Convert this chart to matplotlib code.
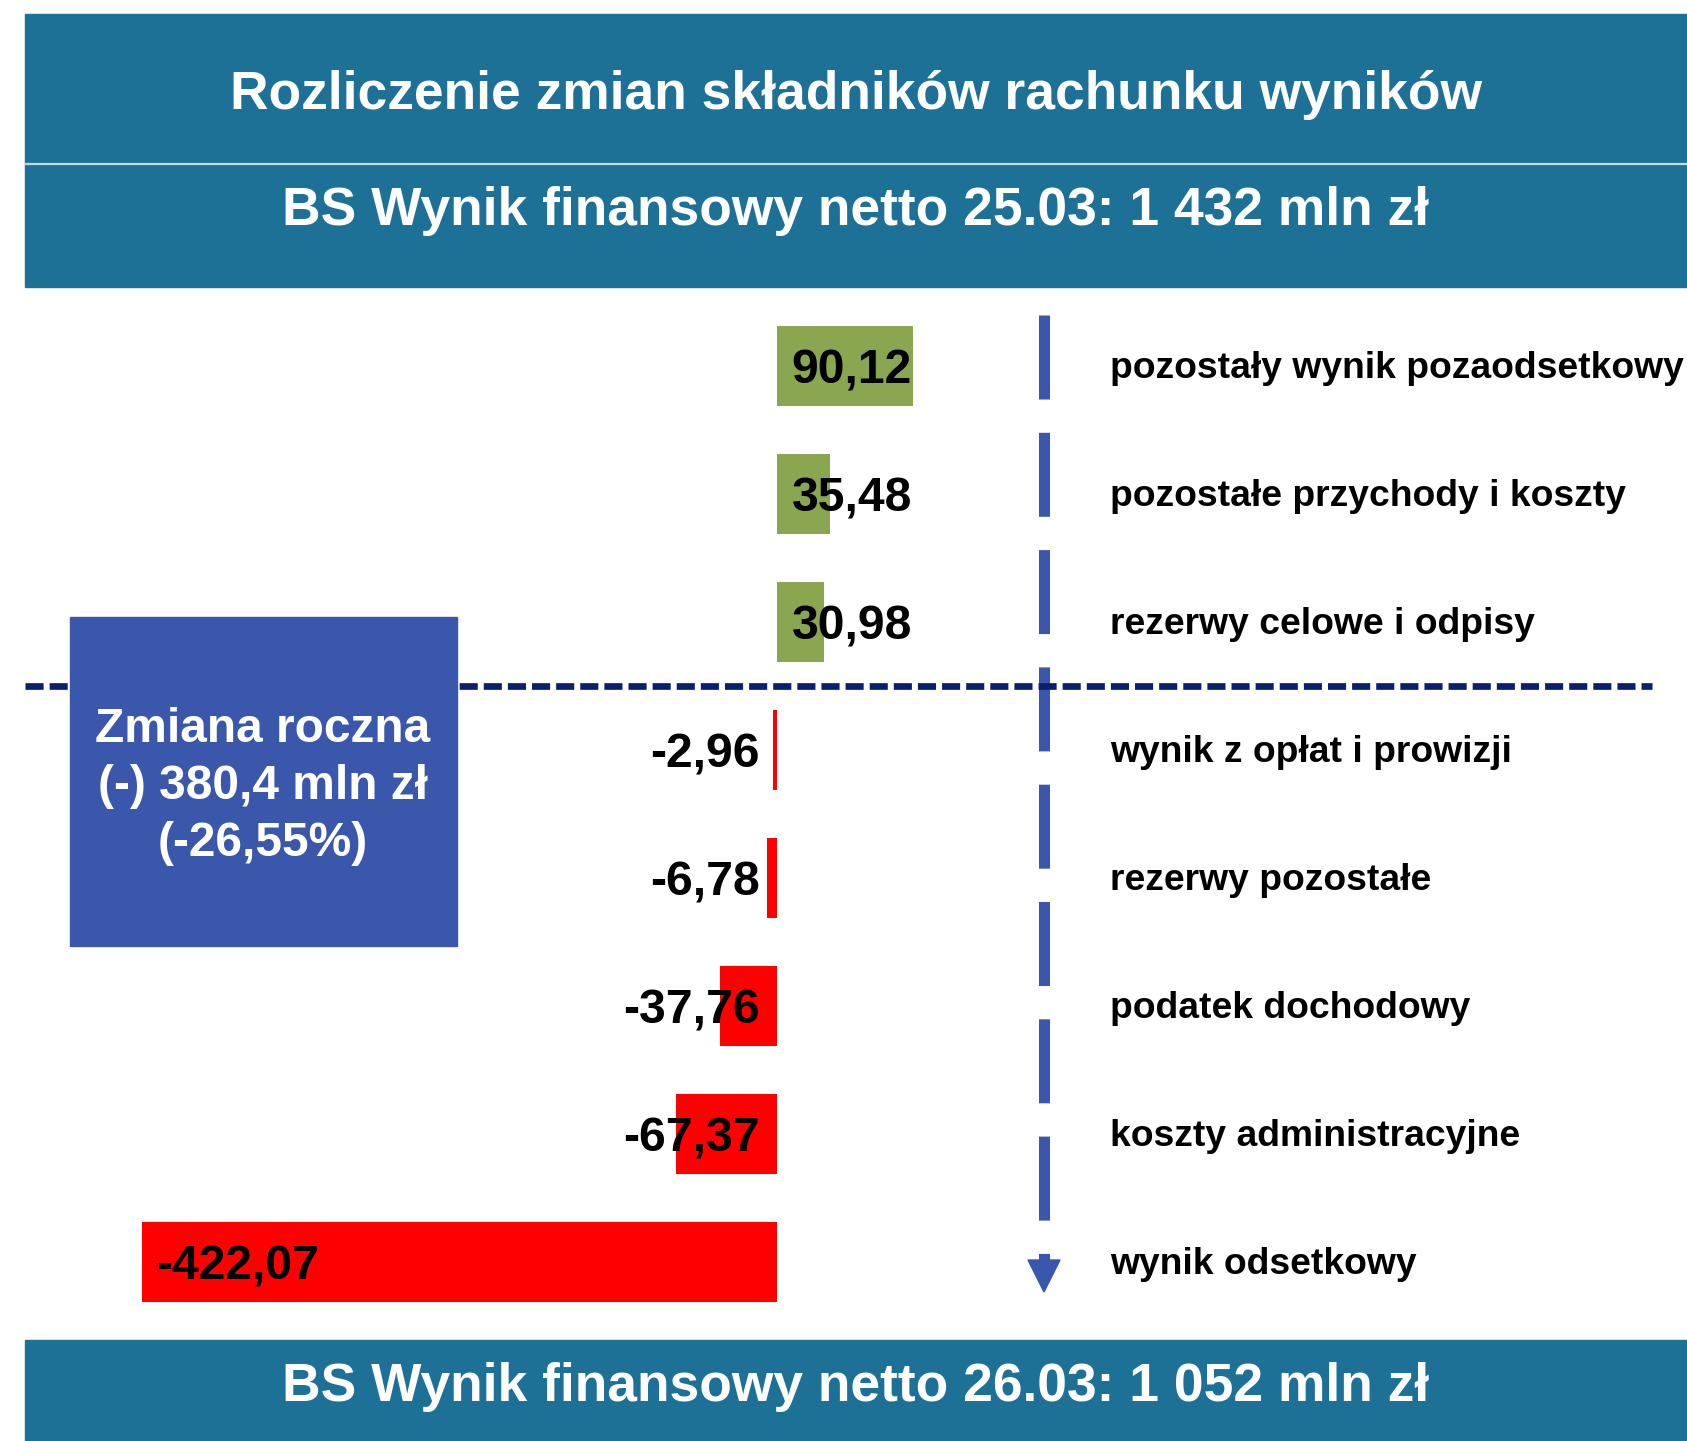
import matplotlib.pyplot as plt
from matplotlib.patches import Rectangle, Polygon

plt.rcParams['font.family'] = ['Liberation Sans', 'DejaVu Sans']
plt.rcParams['font.weight'] = 'bold'

title = "Rozliczenie zmian składników rachunku wyników"
start_label = "BS Wynik finansowy netto 25.03: 1 432 mln zł"
end_label = "BS Wynik finansowy netto 26.03: 1 052 mln zł"
box_lines = ["Zmiana roczna", "(-) 380,4 mln zł", "(-26,55%)"]

categories = ["pozostały wynik pozaodsetkowy", "pozostałe przychody i koszty",
              "rezerwy celowe i odpisy", "wynik z opłat i prowizji",
              "rezerwy pozostałe", "podatek dochodowy",
              "koszty administracyjne", "wynik odsetkowy"]
values = [90.12, 35.48, 30.98, -2.96, -6.78, -37.76, -67.37, -422.07]

W, H = 1687, 1441
BANNER = '#1D7197'
GREEN = '#8BA650'
RED = '#FF0000'
BOXBLUE = '#3A57AB'
ARROW = '#3A57AD'
NAVY = '#0A1F6E'

# pixel helpers (full-size reference coordinates)
X0, SX = 777, 1.505   # zero position and px per unit
Y0, SY = 366, 128     # first row centre and row spacing


def fx(px):
    return px / W


def fy(py):
    return 1 - py / H


def pts(px):
    return px * 72 / 100


fig = plt.figure(figsize=(W / 100, H / 100), dpi=100)
ax = fig.add_axes([0, 0, 1, 1])
ax.set_xlim((0 - X0) / SX, (W - X0) / SX)
ax.set_ylim((H - Y0) / SY, (0 - Y0) / SY)
ax.axis('off')

# banners
fig.patches.append(Rectangle((fx(25), fy(287)), fx(W - 25), (287 - 14) / H,
                             transform=fig.transFigure, color=BANNER, zorder=0))
fig.patches.append(Rectangle((fx(25), fy(H)), fx(W - 25), (H - 1340) / H,
                             transform=fig.transFigure, color=BANNER, zorder=0))
fig.lines.append(plt.Line2D([fx(25), 1], [fy(164), fy(164)], transform=fig.transFigure,
                            color='#C9D6DE', lw=1.6))

fig.text(fx(856), fy(89), title, color='white', fontsize=38.4, ha='center',
         va='center_baseline')
fig.text(fx(856), fy(206), start_label, color='white', fontsize=38.4, ha='center',
         va='center_baseline')
fig.text(fx(856), fy(1382), end_label, color='white', fontsize=38.4, ha='center',
         va='center_baseline')

rows = list(range(len(values)))
colors = [GREEN if v > 0 else RED for v in values]
ax.barh(rows, values, height=0.63, color=colors, zorder=2)

# separator between gains and losses
n_pos = sum(1 for v in values if v > 0)
ax.axhline(n_pos - 0.5, xmin=fx(25), xmax=fx(1652), color=NAVY, lw=pts(6.7),
           linestyle=(0, (2.7, 0.9)), zorder=4)

# vertical dashed arrow
xa = (1044 - X0) / SX
y_top = (315 - Y0) / SY
y_tip = (1292 - Y0) / SY
y_head = (1260 - Y0) / SY
ax.plot([xa, xa], [y_top, y_head], color=ARROW, lw=pts(11),
        linestyle=(0, (84 / 11, 33.3 / 11)), solid_capstyle='butt', zorder=3)
hw = 16 / SX
ax.add_patch(Polygon([[xa - hw, y_head], [xa + hw, y_head], [xa, y_tip]],
                     closed=True, color=ARROW, zorder=3))

# value labels
pos_x = max(values) - 0.5
for i, v in enumerate(values):
    txt = f"{v:.2f}".replace('.', ',')
    if v > 0:
        x, ha = pos_x, 'right'
    elif v > -300:
        x, ha = -11.3, 'right'
    else:
        x, ha = v + 9.5, 'left'
    ax.annotate(txt, (x, i), xytext=(0, -12.5), textcoords='offset points',
                ha=ha, va='baseline', fontsize=34.7, color='black', zorder=5)

# category labels
xl = (1110 - X0) / SX
for i, c in enumerate(categories):
    ax.annotate(c, (xl, i), xytext=(0, -8.8), textcoords='offset points',
                ha='left', va='baseline', fontsize=26.8, color='black', zorder=5)

# summary box
fig.patches.append(Rectangle((fx(70), fy(946)), fx(457 - 70), (946 - 617) / H,
                             transform=fig.transFigure, color=BOXBLUE, zorder=5))
for k, line in enumerate(box_lines):
    fig.text(fx(263), fy(724 + 57.5 * k), line, color='white', fontsize=34.5,
             ha='center', va='center_baseline', zorder=6)

fig.savefig('out.png', dpi=100)
